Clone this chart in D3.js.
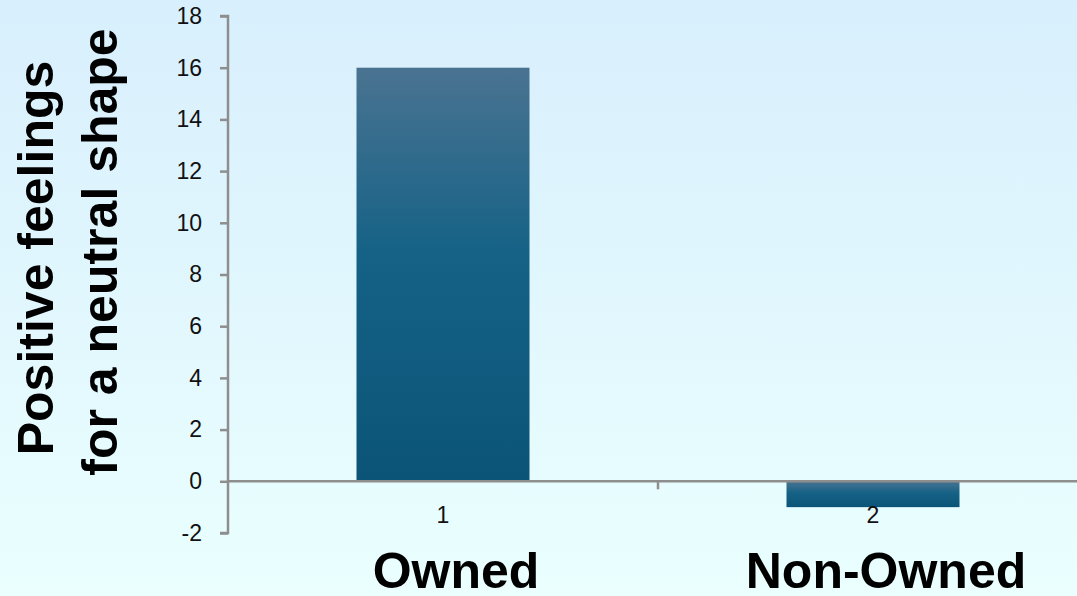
<!DOCTYPE html>
<html>
<head>
<meta charset="utf-8">
<script src="https://cdn.jsdelivr.net/npm/d3@7"></script>
<style>
  html, body { margin: 0; padding: 0; overflow: hidden; }
  svg { display: block; font-family: "Liberation Sans", Arial, sans-serif; }
</style>
</head>
<body>
<svg id="chart" width="1077" height="596"></svg>
<script>
// Chart data
const categories = ["1", "2"];
const groupNames = ["Owned", "Non-Owned"];
const values = [16, -1];
const yTicks = [-2, 0, 2, 4, 6, 8, 10, 12, 14, 16, 18];
const yTitleLines = ["Positive feelings", "for a neutral shape"];

const W = 1077, H = 596;
const svg = d3.select("#chart");
const defs = svg.append("defs");

// Page background: soft vertical light-blue wash
const bg = defs.append("linearGradient").attr("id", "bgGrad")
  .attr("x1", 0).attr("y1", 0).attr("x2", 0).attr("y2", 1);
bg.append("stop").attr("offset", 0).attr("stop-color", "#d8effd");
bg.append("stop").attr("offset", 1).attr("stop-color", "#eafffe");
svg.append("rect").attr("width", W).attr("height", H).attr("fill", "url(#bgGrad)");

// Bar fill: lighter steel-blue at the top, deep teal further down
const barGrad = defs.append("linearGradient").attr("id", "barGrad")
  .attr("x1", 0).attr("y1", 0).attr("x2", 0).attr("y2", 1);
barGrad.append("stop").attr("offset", 0).attr("stop-color", "#4a7391");
barGrad.append("stop").attr("offset", 0.45).attr("stop-color", "#156286");
barGrad.append("stop").attr("offset", 1).attr("stop-color", "#0b5477");

// Scales
const x = d3.scaleBand().domain(categories).range([228, 1088]).paddingInner(0).paddingOuter(0);
const y = d3.scaleLinear().domain([-2, 18]).range([533, 16]);
const barW = 173;

// Bars
svg.selectAll("rect.bar").data(values).join("rect")
  .attr("class", "bar")
  .attr("x", (d, i) => x(categories[i]) + x.bandwidth() / 2 - barW / 2)
  .attr("y", d => y(Math.max(0, d)))
  .attr("width", barW)
  .attr("height", d => Math.abs(y(d) - y(0)))
  .attr("fill", "url(#barGrad)");

const axisColor = "#8e8e8e";

// Y axis
const yAxis = svg.append("g").attr("transform", "translate(228,0)")
  .call(d3.axisLeft(y).tickValues(yTicks).tickSize(8).tickPadding(18).tickFormat(d3.format("d")));
yAxis.select(".domain").attr("stroke", axisColor).attr("stroke-width", 2.5)
  .attr("d", `M-8,${y(18)}H0V${y(-2)}H-8`);
yAxis.selectAll(".tick line").attr("stroke", axisColor).attr("stroke-width", 2.5);
yAxis.selectAll(".tick text").attr("fill", "#111").style("font-size", "23px")
  .text(d => d < 0 ? "-" + Math.abs(d) : d);

// X axis along zero
const xAxis = svg.append("g").attr("transform", `translate(0,${y(0)})`);
xAxis.append("line").attr("x1", 228).attr("x2", W).attr("y1", 0).attr("y2", 0)
  .attr("stroke", axisColor).attr("stroke-width", 2.5);
const bounds = categories.slice(1).map(c => x(c));
xAxis.selectAll("line.sep").data(bounds).join("line").attr("class", "sep")
  .attr("x1", d => d).attr("x2", d => d).attr("y1", 0).attr("y2", 8)
  .attr("stroke", axisColor).attr("stroke-width", 2.5);
xAxis.selectAll("text.cat").data(categories).join("text").attr("class", "cat")
  .attr("x", d => x(d) + x.bandwidth() / 2)
  .attr("y", 42)
  .attr("text-anchor", "middle")
  .attr("fill", "#111")
  .style("font-size", "23px")
  .text(d => d);

// Group names under the axis
svg.selectAll("text.group").data(groupNames).join("text").attr("class", "group")
  .attr("x", (d, i) => x(categories[i]) + x.bandwidth() / 2 + 13)
  .attr("y", 588)
  .attr("text-anchor", "middle")
  .attr("fill", "#000")
  .style("font-size", "50px").style("font-weight", "bold")
  .text(d => d);

// Rotated two-line y-axis title
const titleX = [53, 117];
const titleY = [258, 252];
svg.selectAll("text.ytitle").data(yTitleLines).join("text").attr("class", "ytitle")
  .attr("transform", (d, i) => `translate(${titleX[i]},${titleY[i]}) rotate(-90)`)
  .attr("text-anchor", "middle")
  .attr("fill", "#000")
  .style("font-size", "50px").style("font-weight", "bold")
  .text(d => d);
</script>
</body>
</html>
